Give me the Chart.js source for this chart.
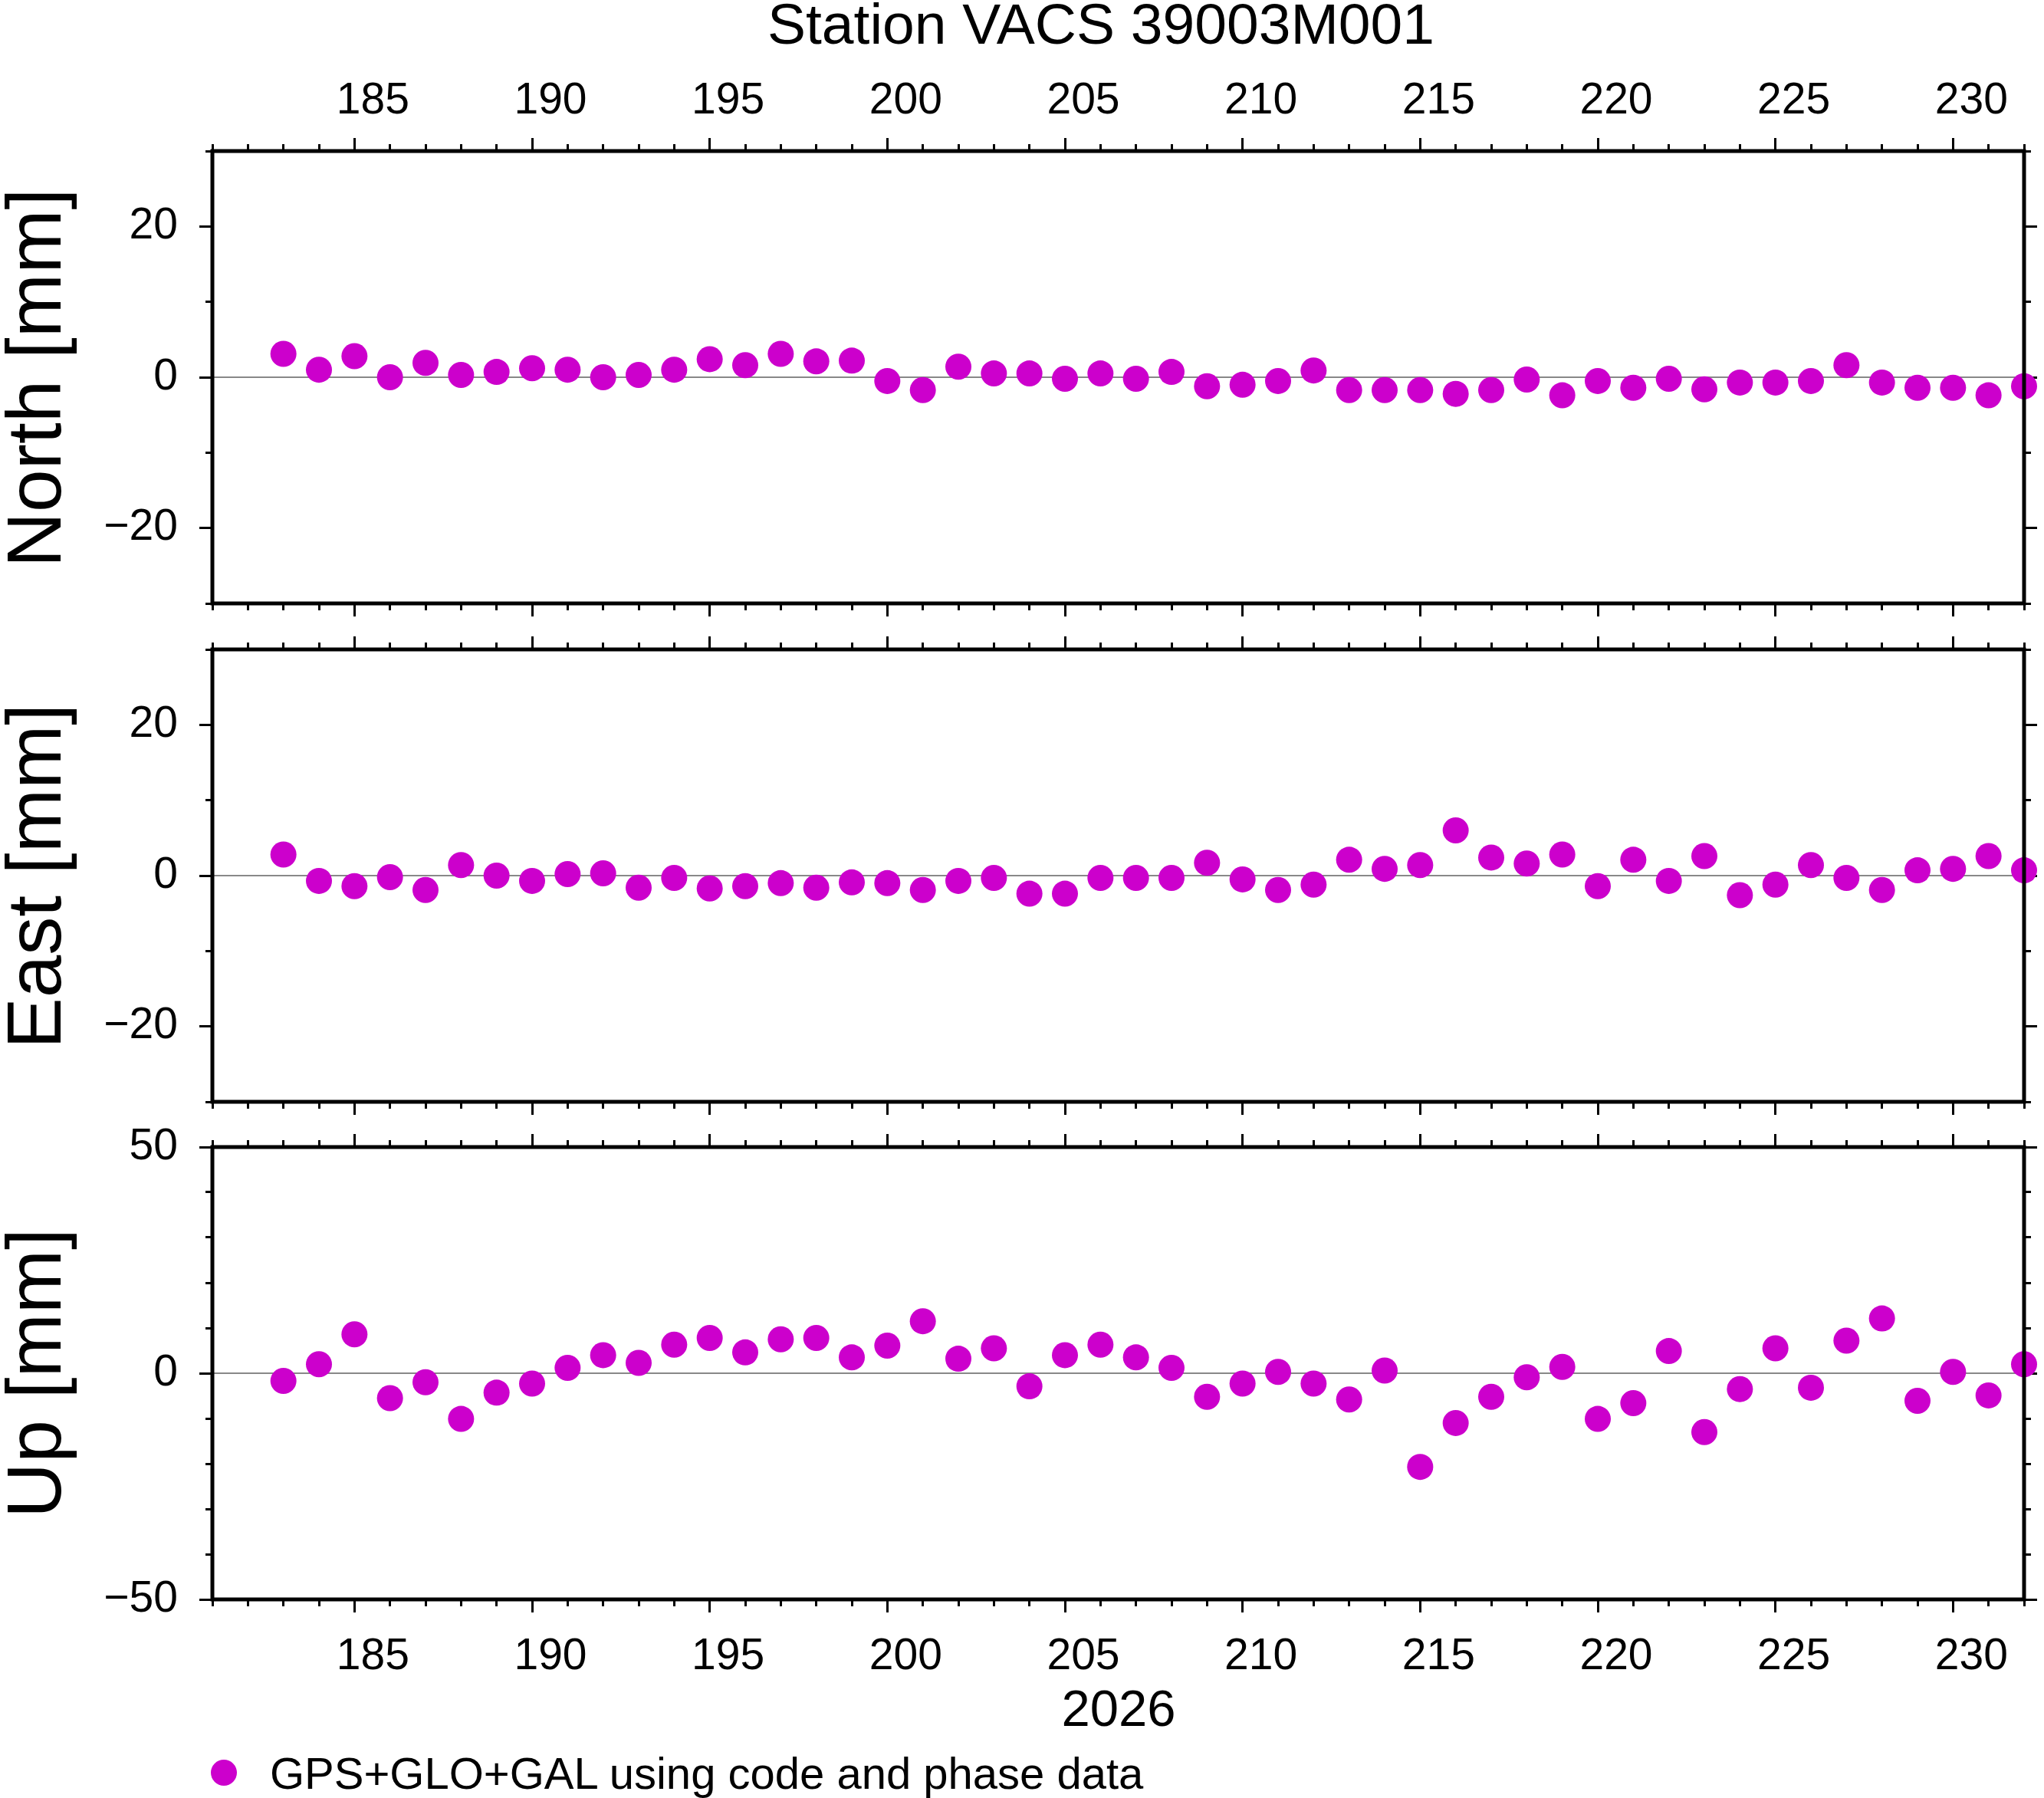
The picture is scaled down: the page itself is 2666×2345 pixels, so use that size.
<!DOCTYPE html>
<html><head><meta charset="utf-8">
<script src="https://cdn.jsdelivr.net/npm/chart.js@4/dist/chart.umd.min.js"></script>
<style>
body{margin:0;background:#fff;width:2666px;height:2345px;position:relative;overflow:hidden;font-family:"Liberation Sans",Arial,sans-serif;}
canvas{position:absolute;left:0;}
.t{position:absolute;white-space:nowrap;color:#000;}
.yl{position:absolute;font-size:100px;transform:translate(-50%,-50%) rotate(-90deg);white-space:nowrap;}
</style></head><body>
<div class="t" style="left:1436px;top:31px;font-size:75px;transform:translate(-50%,-50%)">Station VACS 39003M001</div>
<div class="yl" style="left:44px;top:493px">North [mm]</div>
<div class="yl" style="left:44px;top:1143px">East [mm]</div>
<div class="yl" style="left:44px;top:1791px">Up [mm]</div>
<div class="t" style="left:1459px;top:2227px;font-size:67px;transform:translate(-50%,-50%)">2026</div>
<div style="position:absolute;left:275px;top:2295px;width:34px;height:34px;border-radius:50%;background:#cc00cc"></div>
<div class="t" style="left:352px;top:2312px;font-size:58px;transform:translateY(-50%)">GPS+GLO+GAL using code and phase data</div>
<canvas id="cN" width="2666" height="817" style="top:0"></canvas>
<canvas id="cE" width="2666" height="650" style="top:817px"></canvas>
<canvas id="cU" width="2666" height="733" style="top:1467px"></canvas>
<script>
const days=[183,184,185,186,187,188,189,190,191,192,193,194,195,196,197,198,199,200,201,202,203,204,205,206,207,208,209,210,211,212,213,214,215,216,217,218,219,220,221,222,223,224,225,226,227,228,229,230,231,232];
const north=[3.1,1.0,2.8,0,1.9,0.3,0.7,1.2,1.0,0,0.3,1.0,2.4,1.6,3.1,2.1,2.2,-0.5,-1.7,1.4,0.5,0.5,-0.2,0.5,-0.2,0.7,-1.2,-1.0,-0.5,0.9,-1.7,-1.7,-1.7,-2.2,-1.7,-0.3,-2.4,-0.5,-1.4,-0.2,-1.6,-0.7,-0.7,-0.5,1.6,-0.7,-1.4,-1.4,-2.4,-1.2];
const east=[2.8,-0.7,-1.4,-0.2,-1.9,1.4,0,-0.7,0.2,0.3,-1.6,-0.3,-1.7,-1.4,-1.0,-1.6,-0.9,-1.0,-1.9,-0.7,-0.3,-2.4,-2.4,-0.3,-0.3,-0.3,1.7,-0.5,-1.9,-1.2,2.1,0.9,1.4,6.0,2.4,1.6,2.8,-1.4,2.1,-0.7,2.6,-2.6,-1.2,1.4,-0.3,-1.9,0.7,0.9,2.6,0.7];
const up=[-1.7,2.0,8.6,-5.5,-2.0,-10.1,-4.3,-2.3,1.2,4.0,2.3,6.3,7.8,4.6,7.5,7.8,3.5,6.1,11.5,3.2,5.5,-2.9,4.0,6.3,3.5,1.2,-5.2,-2.3,0.3,-2.3,-5.8,0.6,-20.7,-11.0,-5.2,-0.9,1.4,-10.1,-6.6,4.9,-13.0,-3.5,5.5,-3.2,7.2,12.1,-6.1,0.3,-4.9,2.0];
const xMajor=[185,190,195,200,205,210,215,220,225,230];
const xMin=181, xMax=232;

const fmt=v=>v<0?'\u2212'+Math.abs(v):''+v;
const font={family:'"Liberation Sans", Arial, sans-serif',size:57};
const frame={
  id:'frame',
  beforeDatasetsDraw(c){const a=c.chartArea,y=c.scales.y.getPixelForValue(0),g=c.ctx;
    g.save();g.strokeStyle='#888';g.lineWidth=2;g.beginPath();g.moveTo(a.left,y);g.lineTo(a.right,y);g.stroke();g.restore();},
  afterDraw(c){const a=c.chartArea,g=c.ctx;g.save();g.strokeStyle='#000';g.lineWidth=5;
    g.strokeRect(a.left,a.top,a.right-a.left,a.bottom-a.top);g.restore();}
};
function tickAxis(pos,weight,len,size,ticksArr,labels,pad){
  const horiz=(pos==='top'||pos==='bottom');
  return {type:'linear',position:pos,weight:weight,min:horiz?xMin:undefined,max:horiz?xMax:undefined,
    border:{display:false},
    grid:{drawOnChartArea:false,drawTicks:true,tickLength:len,color:'#000',lineWidth:3},
    ticks:{display:true,autoSkip:false,font:font,color:'#000',padding:pad||0,maxRotation:0,
      labelOffset:horiz?24:0,callback:v=>labels?fmt(v):''},
    afterBuildTicks:s=>{s.ticks=ticksArr.map(v=>({value:v}));},
    afterFit:s=>{if(horiz){s.height=size;s.paddingLeft=0;s.paddingRight=0;}else{s.width=size;s.paddingTop=0;s.paddingBottom=0;}}};
}
function makeChart(id,vals,ymin,ymax,yMajor,yMinor,topH,botH,topLab,botLab){
  const allDays=[];for(let d=xMin;d<=xMax;d++)allDays.push(d);
  const yl1=tickAxis('left',0,9,0,yMinor,false);
  const yl5=tickAxis('left',1,17,277,yMajor,true,28);
  const yr1=tickAxis('right',0,9,0,yMinor,false);
  const yr5=tickAxis('right',1,17,26,yMajor,false);
  [yl1,yl5,yr1,yr5].forEach(a=>{a.min=ymin;a.max=ymax;});
  new Chart(document.getElementById(id),{
    type:'scatter',
    data:{datasets:[{data:days.map((d,i)=>({x:d,y:vals[i]})),backgroundColor:'#cc00cc',borderWidth:0,pointRadius:17,clip:false}]},
    options:{responsive:false,animation:false,devicePixelRatio:1,layout:{padding:0},
      plugins:{legend:{display:false},tooltip:{enabled:false}},
      scales:{
        x:{type:'linear',min:xMin,max:xMax,display:false},
        y:{type:'linear',min:ymin,max:ymax,display:false},
        xt1:tickAxis('top',0,9,0,allDays,false),
        xt5:tickAxis('top',1,17,topH,xMajor,topLab,14),
        xb1:tickAxis('bottom',0,9,0,allDays,false),
        xb5:tickAxis('bottom',1,17,botH,xMajor,botLab,24),
        yl1:yl1,yl5:yl5,yr1:yr1,yr5:yr5
      }},
    plugins:[frame]
  });
}
makeChart('cN',north,-30,30,[-20,0,20],[-30,-20,-10,0,10,20,30],197,30,true,false);
makeChart('cE',east,-30,30,[-20,0,20],[-30,-20,-10,0,10,20,30],30,30,false,false);
makeChart('cU',up,-50,50,[-50,0,50],[-50,-40,-30,-20,-10,0,10,20,30,40,50],29,114,false,true);
</script></body></html>
